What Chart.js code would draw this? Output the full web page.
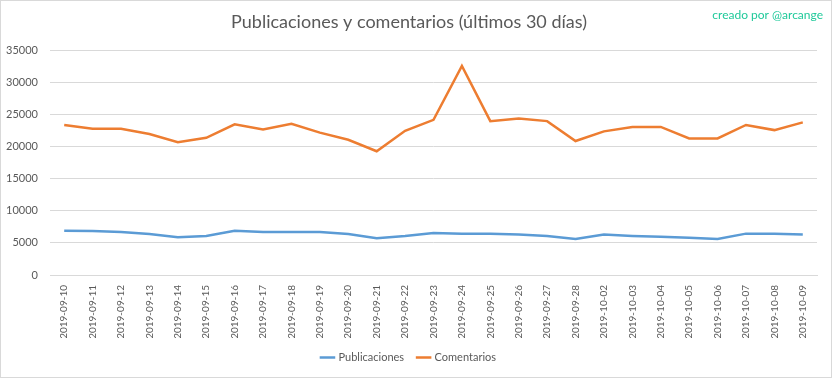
<!DOCTYPE html>
<html>
<head>
<meta charset="utf-8">
<script src="https://cdn.jsdelivr.net/npm/chart.js@4"></script>
<style>
  body { margin: 0; background: #fff; }
  .wrap { width: 830px; height: 376px; border: 1px solid #d9d9d9; position: relative; }
</style>
</head>
<body>
<div class="wrap"><canvas id="chart"></canvas></div>
<script>
let fechas = ['2019-09-10','2019-09-11','2019-09-12','2019-09-13','2019-09-14','2019-09-15',
  '2019-09-16','2019-09-17','2019-09-18','2019-09-19','2019-09-20','2019-09-21','2019-09-22',
  '2019-09-23','2019-09-24','2019-09-25','2019-09-26','2019-09-27','2019-09-28','2019-10-02',
  '2019-10-03','2019-10-04','2019-10-05','2019-10-06','2019-10-07','2019-10-08','2019-10-09'];

let publicaciones = [6900,6850,6700,6400,5900,6100,6900,6700,6700,6700,6400,5750,6100,
  6550,6450,6450,6300,6100,5600,6300,6100,5950,5800,5600,6450,6450,6300];

let comentarios = [23400,22800,22800,22000,20700,21400,23500,22700,23600,22200,21100,19300,22500,
  24200,32600,24000,24400,24000,20900,22400,23100,23100,21300,21300,23400,22600,23800];

let fuente = "Lato, 'Open Sans', sans-serif";

// texto "creado por" arriba a la derecha
let creditoPlugin = {
  id: 'credito',
  afterDraw(chart) {
    let ctx = chart.ctx;
    ctx.save();
    ctx.font = '12px ' + fuente;
    ctx.fillStyle = '#1fc99a';
    ctx.textAlign = 'right';
    ctx.textBaseline = 'middle';
    ctx.fillText('creado por @arcange', 822, 14);
    ctx.restore();
  }
};

let ctx = document.getElementById('chart').getContext('2d');
let chart = new Chart(ctx, {
  type: 'line',
  data: {
    labels: fechas,
    datasets: [{
      label: 'Publicaciones',
      data: publicaciones,
      borderColor: '#5b9bd5',
      backgroundColor: '#5b9bd5',
      borderWidth: 2.5,
      pointRadius: 0,
      tension: 0,
    }, {
      label: 'Comentarios',
      data: comentarios,
      borderColor: '#ed7d31',
      backgroundColor: '#ed7d31',
      borderWidth: 2.5,
      pointRadius: 0,
      tension: 0,
    }]
  },
  options: {
    responsive: true,
    maintainAspectRatio: false,
    animation: false,
    layout: {
      padding: { left: 0, right: 14, top: 0, bottom: 4 }
    },
    plugins: {
      title: {
        display: true,
        text: 'Publicaciones y comentarios (últimos 30 días)',
        color: '#595959',
        font: { family: fuente, size: 18, weight: 'normal' },
        padding: { top: 10, bottom: 18 }
      },
      legend: {
        display: true,
        position: 'bottom',
        labels: {
          usePointStyle: true,
          pointStyle: 'line',
          boxWidth: 28,
          color: '#595959',
          font: { family: fuente, size: 11 },
          padding: 14
        }
      },
      tooltip: { enabled: false }
    },
    scales: {
      x: {
        offset: true,
        grid: { display: false },
        border: { color: '#d9d9d9' },
        ticks: {
          color: '#595959',
          font: { family: fuente, size: 10 },
          maxRotation: 90,
          minRotation: 90,
          autoSkip: false,
          padding: 2
        },
        afterFit(scale) { scale.height = 63; }
      },
      y: {
        min: 0,
        max: 35000,
        grid: { color: '#d9d9d9', drawTicks: false },
        border: { display: false },
        ticks: {
          stepSize: 5000,
          color: '#595959',
          padding: 12,
          font: { family: fuente, size: 11 },
          callback: (v) => String(v)
        },
        afterFit(scale) { scale.width = 49; }
      }
    }
  },
  plugins: [creditoPlugin]
});
</script>
</body>
</html>
